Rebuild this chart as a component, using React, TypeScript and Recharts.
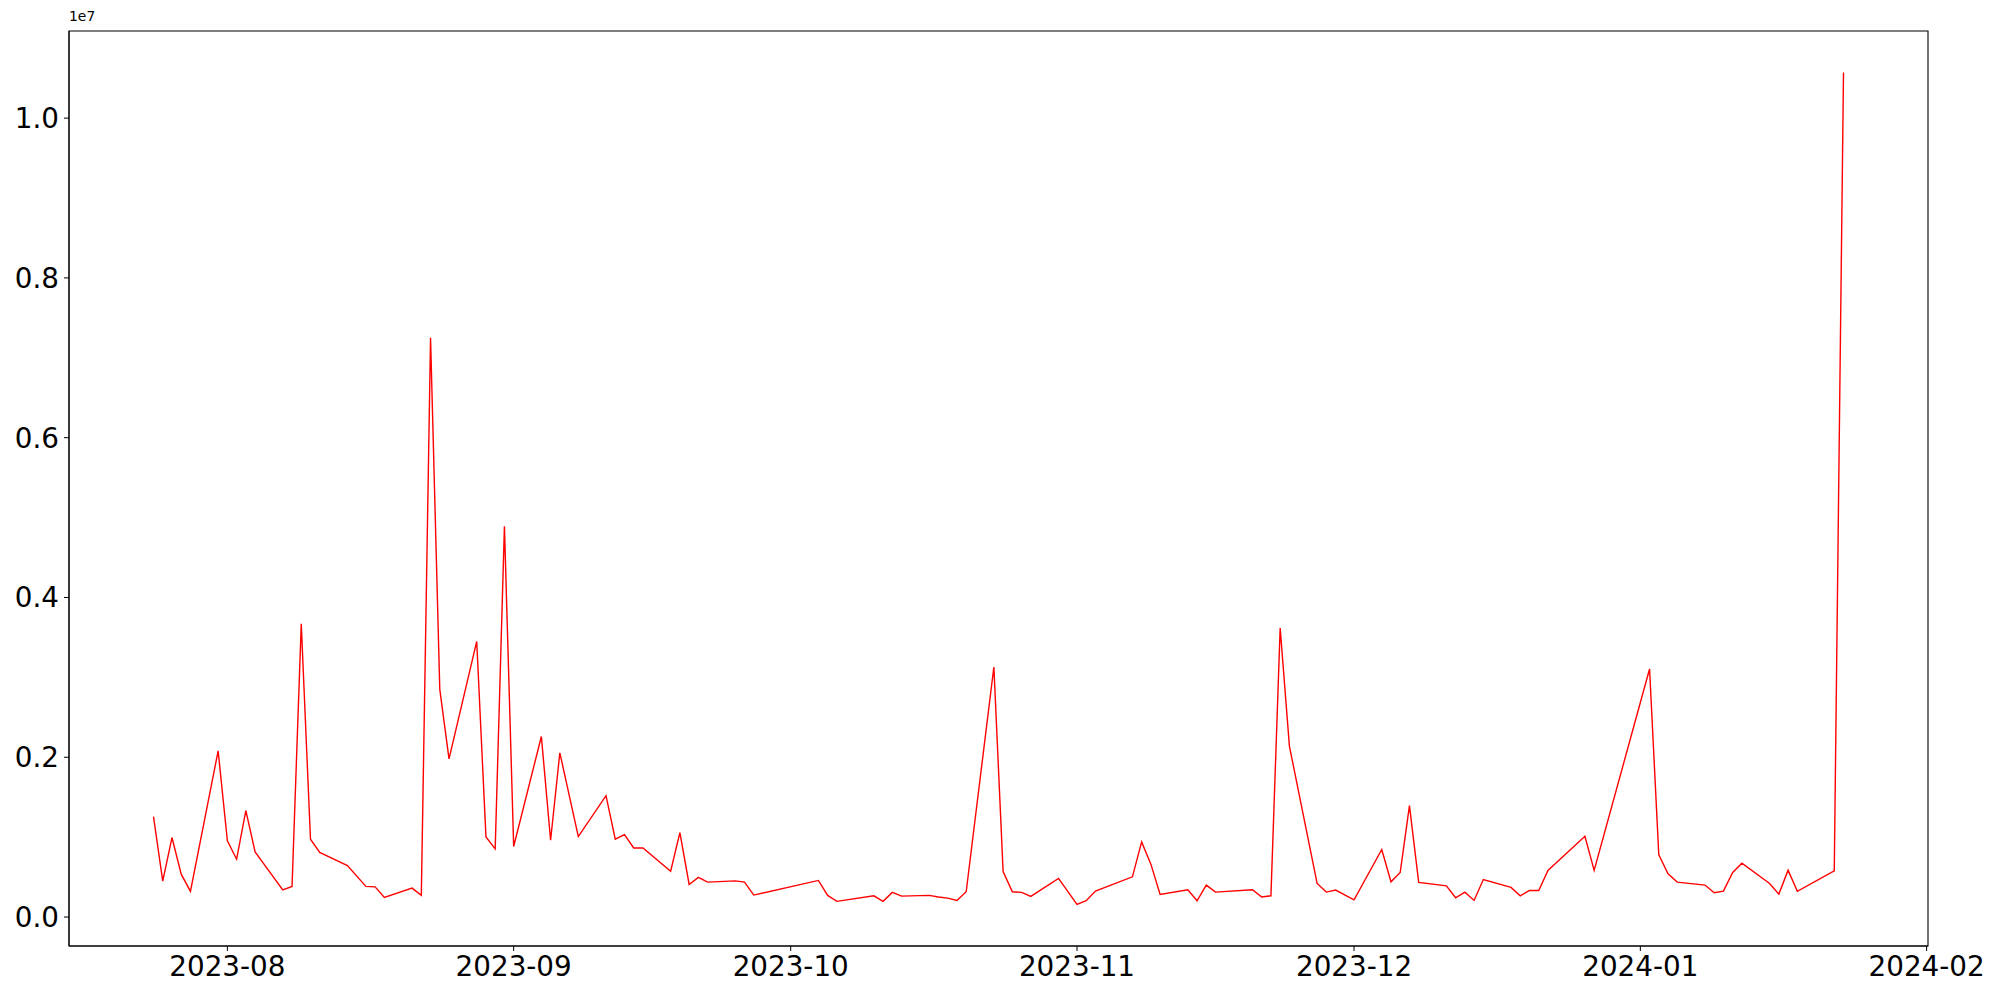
import { LineChart, Line, XAxis, YAxis, ReferenceArea } from 'recharts';

// trading dates and daily values
const dates = [
  '2023-07-24', '2023-07-25', '2023-07-26', '2023-07-27', '2023-07-28', '2023-07-31',
  '2023-08-01', '2023-08-02', '2023-08-03', '2023-08-04', '2023-08-07', '2023-08-08',
  '2023-08-09', '2023-08-10', '2023-08-11', '2023-08-14', '2023-08-16', '2023-08-17',
  '2023-08-18', '2023-08-21', '2023-08-22', '2023-08-23', '2023-08-24', '2023-08-25',
  '2023-08-28', '2023-08-29', '2023-08-30', '2023-08-31', '2023-09-01', '2023-09-04',
  '2023-09-05', '2023-09-06', '2023-09-08', '2023-09-11', '2023-09-12', '2023-09-13',
  '2023-09-14', '2023-09-15', '2023-09-18', '2023-09-19', '2023-09-20', '2023-09-21',
  '2023-09-22', '2023-09-25', '2023-09-26', '2023-09-27', '2023-10-04', '2023-10-05',
  '2023-10-06', '2023-10-10', '2023-10-11', '2023-10-12', '2023-10-13', '2023-10-16',
  '2023-10-17', '2023-10-18', '2023-10-19', '2023-10-20', '2023-10-23', '2023-10-24',
  '2023-10-25', '2023-10-26', '2023-10-27', '2023-10-30', '2023-11-01', '2023-11-02',
  '2023-11-03', '2023-11-07', '2023-11-08', '2023-11-09', '2023-11-10', '2023-11-13',
  '2023-11-14', '2023-11-15', '2023-11-16', '2023-11-20', '2023-11-21', '2023-11-22',
  '2023-11-23', '2023-11-24', '2023-11-27', '2023-11-28', '2023-11-29', '2023-12-01',
  '2023-12-04', '2023-12-05', '2023-12-06', '2023-12-07', '2023-12-08', '2023-12-11',
  '2023-12-12', '2023-12-13', '2023-12-14', '2023-12-15', '2023-12-18', '2023-12-19',
  '2023-12-20', '2023-12-21', '2023-12-22', '2023-12-26', '2023-12-27', '2024-01-02',
  '2024-01-03', '2024-01-04', '2024-01-05', '2024-01-08', '2024-01-09', '2024-01-10',
  '2024-01-11', '2024-01-12', '2024-01-15', '2024-01-16', '2024-01-17', '2024-01-18',
  '2024-01-22', '2024-01-23',
];

const values = [
  1257000, 449000, 995000, 537000, 321000, 2080000,
  953000, 724000, 1332000, 815000, 341000, 383000,
  3670000, 974000, 808000, 645000, 383000, 378000,
  246000, 362000, 271000, 7250000, 2850000, 1980000,
  3450000, 1003000, 853000, 4890000, 883000, 2260000,
  961000, 2056000, 1007000, 1519000, 974000, 1032000,
  865000, 865000, 574000, 1057000, 408000, 496000,
  437000, 453000, 437000, 275000, 458000, 271000,
  196000, 266000, 196000, 308000, 262000, 271000,
  250000, 237000, 208000, 316000, 3130000, 570000,
  316000, 308000, 258000, 483000, 158000, 204000,
  325000, 503000, 940000, 662000, 283000, 341000,
  204000, 400000, 312000, 341000, 250000, 266000,
  3617000, 2139000, 420000, 312000, 337000, 216000,
  845000, 441000, 558000, 1394000, 433000, 391000,
  241000, 312000, 208000, 470000, 371000, 266000,
  333000, 333000, 583000, 1011000, 583000, 3105000,
  778000, 541000, 437000, 400000, 304000, 325000,
  558000, 674000, 420000, 287000, 587000, 321000,
  578000, 10570000,
];

const monthTicks = ['2023-08-01', '2023-09-01', '2023-10-01', '2023-11-01', '2023-12-01', '2024-01-01', '2024-02-01'];
const yTicks = [0, 2000000, 4000000, 6000000, 8000000, 10000000];

const data = dates.map((d, i) => ({ t: Date.parse(d), v: values[i] }));

// matplotlib-style 5% padding on both axes
const tMin = data[0].t;
const tMax = data[data.length - 1].t;
const tPad = (tMax - tMin) * 0.05;
const xDomain = [tMin - tPad, tMax + tPad];
const vMin = Math.min(...values);
const vMax = Math.max(...values);
const vPad = (vMax - vMin) * 0.05;
const yDomain = [vMin - vPad, vMax + vPad];

const font = '"DejaVu Sans", sans-serif';
const tickStyle = { fontSize: 27.8, fill: '#000', fontFamily: font };

export default function App() {
  return (
    <div style={{ position: 'absolute', left: 0, top: 0, width: 2000, height: 1000, background: '#fff' }}>
      <LineChart width={2000} height={1000} data={data} margin={{ top: 31, right: 72, left: 0, bottom: 0 }}>
        <XAxis
          dataKey="t"
          type="number"
          scale="linear"
          domain={xDomain}
          ticks={monthTicks.map((m) => Date.parse(m))}
          interval={0}
          tickFormatter={(t) => new Date(t).toISOString().slice(0, 7)}
          tick={tickStyle}
          height={54}
          tickSize={5}
          tickMargin={5}
          stroke="#000"
          allowDataOverflow
        />
        <YAxis
          type="number"
          domain={yDomain}
          ticks={yTicks}
          interval={0}
          tickFormatter={(v) => (v / 1e7).toFixed(1)}
          tick={tickStyle}
          width={69}
          tickSize={5}
          tickMargin={5}
          stroke="#000"
          allowDataOverflow
        />
        <Line
          type="linear"
          dataKey="v"
          stroke="#ff0000"
          strokeWidth={1.4}
          dot={false}
          isAnimationActive={false}
        />
        <ReferenceArea
          x1={xDomain[0]}
          x2={xDomain[1]}
          y1={yDomain[0]}
          y2={yDomain[1]}
          fill="none"
          stroke="#000"
          strokeWidth={1.1}
          ifOverflow="visible"
        />
      </LineChart>
      <div style={{ position: 'absolute', left: 69, top: 10, fontFamily: font, fontSize: 13.9, lineHeight: 1 }}>1e7</div>
    </div>
  );
}
